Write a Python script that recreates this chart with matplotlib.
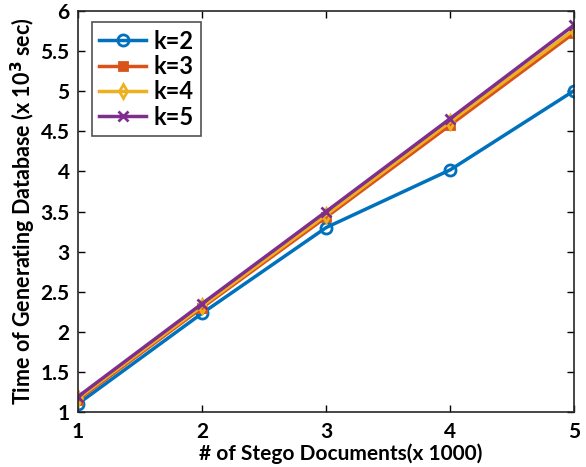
import matplotlib
matplotlib.use("Agg")
import matplotlib.pyplot as plt

x = [1, 2, 3, 4, 5]
k2 = [1.10, 2.23, 3.30, 4.02, 5.01]
k3 = [1.15, 2.30, 3.43, 4.58, 5.73]
k4 = [1.17, 2.32, 3.46, 4.62, 5.77]
k5 = [1.19, 2.35, 3.50, 4.66, 5.83]
labels = ["k=2", "k=3", "k=4", "k=5"]
xticks = [1, 2, 3, 4, 5]
yticks = [1, 1.5, 2, 2.5, 3, 3.5, 4, 4.5, 5, 5.5, 6]

plt.rcParams['font.family'] = ['Lato', 'DejaVu Sans']
plt.rcParams['font.weight'] = 'bold'

fig = plt.figure(figsize=(5.86, 4.67), dpi=100)
ax = fig.add_axes([0.133, 0.118, 0.847, 0.858])

styles = [
    dict(color="#0072BD", marker="o", mfc="none", ms=8, mew=2),
    dict(color="#D95319", marker="s", ms=6, mew=2),
    dict(color="#EDB120", marker="d", mfc="none", ms=7, mew=2),
    dict(color="#7E2F8E", marker="x", ms=7, mew=2),
]
for ys, lab, st in zip([k2, k3, k4, k5], labels, styles):
    ax.plot(x, ys, lw=2.5, label=lab, **st)

ax.set_xlim(1, 5)
ax.set_ylim(1, 6)
ax.set_xticks(xticks)
ax.set_yticks(yticks)
ax.set_yticklabels([f"{t:g}" for t in yticks])
ax.tick_params(direction="in", top=True, right=True, labelsize=15, length=5, width=1)
ax.tick_params(axis="x", pad=7)
ax.tick_params(axis="y", pad=6)
for s in ax.spines.values():
    s.set_linewidth(1.2)
    s.set_color("#262626")
ax.set_xlabel("# of Stego Documents(x 1000)", fontsize=15, fontweight="bold")
ax.xaxis.set_label_coords(0.53, -0.078)
ax.set_ylabel(r"Time of Generating Database (x 10$^{3}$ sec)", fontsize=15.5, fontweight="bold", labelpad=2)
leg = ax.legend(loc="upper left", fontsize=17, frameon=True, fancybox=False,
                edgecolor="#262626", handlelength=2.0, borderpad=0.3, labelspacing=0.1,
                handletextpad=0.3, borderaxespad=0, bbox_to_anchor=(0.028, 0.972))
leg.get_frame().set_linewidth(1.2)
fig.savefig("out.png", dpi=100)
